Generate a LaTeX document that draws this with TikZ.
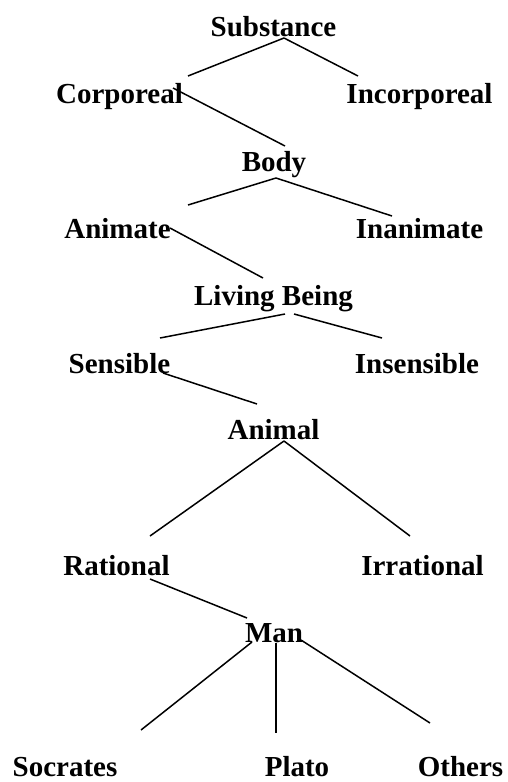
\documentclass[tikz,border=0pt]{standalone}
\usepackage{fontspec}
\setmainfont{Liberation Serif}
\begin{document}
\begin{tikzpicture}[x=1pt,y=-1pt,
  lbl/.style={inner sep=0pt,anchor=base,font=\fontsize{29}{34}\selectfont\bfseries},
  conn/.style={line width=1.5pt,black}]
\useasboundingbox (0,0) rectangle (508,782);
\node[lbl] (sub) at (273.5,36) {Substance};
\node[lbl] (cor) at (119.5,103) {Corporeal};
\node[lbl] (inc) at (419.5,103) {Incorporeal};
\node[lbl] (bod) at (274,171) {Body};
\node[lbl] (ani) at (117.5,238) {Animate};
\node[lbl] (ina) at (419.5,238) {Inanimate};
\node[lbl] (liv) at (273.5,305) {Living Being};
\node[lbl] (sen) at (119.5,373) {Sensible};
\node[lbl] (ins) at (417,373) {Insensible};
\node[lbl] (anl) at (273.5,439) {Animal};
\node[lbl] (rat) at (116.5,575) {Rational};
\node[lbl] (irr) at (422.5,575) {Irrational};
\node[lbl] (man) at (274,642) {Man};
\node[lbl] (soc) at (65,776.5) {Socrates};
\node[lbl] (pla) at (297,776.5) {Plato};
\node[lbl] (oth) at (460.5,776.5) {Others};
\draw[conn] ([xshift=10.5pt,yshift=-2pt]sub.base) -- ([xshift=68.5pt,yshift=27pt]cor.base);
\draw[conn] ([xshift=10.5pt,yshift=-2pt]sub.base) -- ([xshift=-61.5pt,yshift=27pt]inc.base);
\draw[conn] ([xshift=53.5pt,yshift=15pt]cor.base) -- ([xshift=11pt,yshift=25pt]bod.base);
\draw[conn] ([xshift=2pt,yshift=-7pt]bod.base) -- ([xshift=70.5pt,yshift=33pt]ani.base);
\draw[conn] ([xshift=2pt,yshift=-7pt]bod.base) -- ([xshift=-27.5pt,yshift=22pt]ina.base);
\draw[conn] ([xshift=52.5pt,yshift=10pt]ani.base) -- ([xshift=-10.5pt,yshift=27pt]liv.base);
\draw[conn] ([xshift=11.5pt,yshift=-9pt]liv.base) -- ([xshift=40.5pt,yshift=35pt]sen.base);
\draw[conn] ([xshift=20.5pt,yshift=-9pt]liv.base) -- ([xshift=-35pt,yshift=35pt]ins.base);
\draw[conn] ([xshift=43.5pt,yshift=0pt]sen.base) -- ([xshift=-16.5pt,yshift=35pt]anl.base);
\draw[conn] ([xshift=10.5pt,yshift=-2pt]anl.base) -- ([xshift=33.5pt,yshift=39pt]rat.base);
\draw[conn] ([xshift=10.5pt,yshift=-2pt]anl.base) -- ([xshift=-12.5pt,yshift=39pt]irr.base);
\draw[conn] ([xshift=33.5pt,yshift=-4pt]rat.base) -- ([xshift=-27pt,yshift=24pt]man.base);
\draw[conn] ([xshift=-22pt,yshift=0pt]man.base) -- ([xshift=76pt,yshift=46.5pt]soc.base);
\draw[conn] ([xshift=2pt,yshift=-1pt]man.base) -- ([xshift=-21pt,yshift=43.5pt]pla.base);
\draw[conn] ([xshift=27pt,yshift=2pt]man.base) -- ([xshift=-30.5pt,yshift=53.5pt]oth.base);
\end{tikzpicture}
\end{document}
